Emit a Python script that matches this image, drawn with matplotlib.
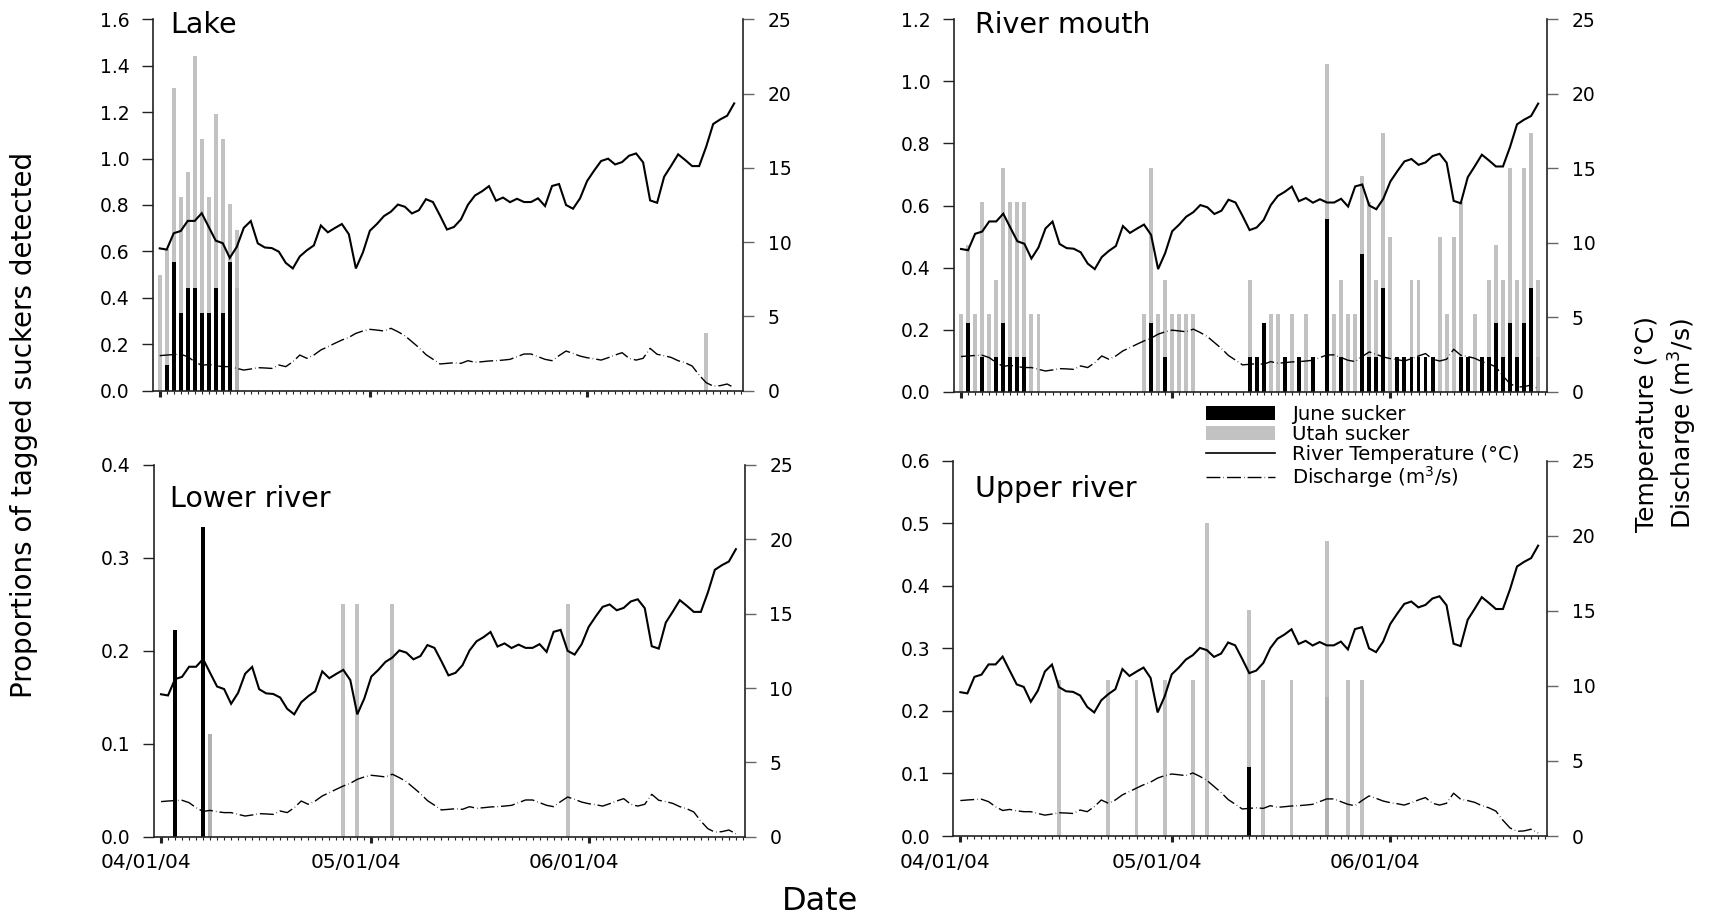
import numpy as np
import matplotlib
matplotlib.use("Agg")
import matplotlib.pyplot as plt
import matplotlib.transforms as mtransforms
from matplotlib.patches import Patch
from matplotlib.lines import Line2D
from matplotlib.ticker import FormatStrFormatter

plt.rcParams['font.family'] = ['DejaVu Sans']

W, H, DPI = 1709, 924, 100
GREY = '#c2c2c2'
MUTED = '#b2b2b2'
DASH = (10, 2.2, 0.4, 2.2)

# Daily river conditions, day 0 = 04/01/04
temperature = [9.58, 9.50, 10.60, 10.75, 11.43, 11.43, 11.95, 11.02, 10.10, 9.93,
               8.94, 9.68, 10.96, 11.42, 9.92, 9.64, 9.60, 9.36, 8.60, 8.23,
               9.04, 9.45, 9.78, 11.12, 10.66, 10.95, 11.22, 10.53, 8.23, 9.30,
               10.77, 11.22, 11.75, 12.05, 12.53, 12.38, 11.93, 12.15, 12.89, 12.70,
               11.80, 10.85, 11.02, 11.53, 12.52, 13.14, 13.42, 13.77, 12.79, 13.00,
               12.69, 12.92, 12.70, 12.70, 12.95, 12.43, 13.78, 13.91, 12.50, 12.25,
               12.95, 14.11, 14.81, 15.46, 15.62, 15.23, 15.39, 15.82, 15.97, 15.37,
               12.81, 12.65, 14.40, 15.14, 15.91, 15.53, 15.12, 15.12, 16.42, 17.95,
               18.26, 18.51, 19.34]
discharge = [2.36, 2.40, 2.43, 2.45, 2.29, 1.95, 1.70, 1.77, 1.68, 1.62,
             1.62, 1.50, 1.39, 1.46, 1.55, 1.53, 1.50, 1.73, 1.62, 1.95,
             2.40, 2.18, 2.40, 2.74, 2.96, 3.19, 3.41, 3.59, 3.86, 4.02,
             4.13, 4.08, 4.02, 4.20, 3.97, 3.70, 3.30, 2.90, 2.43, 2.12,
             1.80, 1.84, 1.88, 1.84, 2.02, 1.91, 1.95, 2.00, 2.02, 2.06,
             2.11, 2.29, 2.47, 2.47, 2.29, 2.11, 2.02, 2.36, 2.67, 2.51,
             2.33, 2.22, 2.15, 2.06, 2.22, 2.40, 2.56, 2.18, 2.06, 2.18,
             2.85, 2.45, 2.36, 2.24, 2.02, 1.88, 1.66, 1.05, 0.54, 0.31,
             0.34, 0.45, 0.20]
days = np.arange(len(temperature))

date_ticks = [0, 30, 61]
date_labels = ['04/01/04', '05/01/04', '06/01/04']

# Detections per site: day, June sucker proportion, Utah sucker proportion (stacked)
lake_days = [0, 1, 2, 3, 4, 5, 6, 7, 8, 9, 10, 11, 78]
lake_june = [0, .111, .556, .333, .444, .444, .333, .333, .444, .333, .556, .444, 0]
lake_utah = [.50, .50, .75, .50, .50, 1.0, .75, .50, .75, .75, .25, .25, .25]

mouth_days = [0, 1, 2, 3, 4, 5, 6, 7, 8, 9, 10, 11,
              26, 27, 28, 29, 30, 31, 32, 33,
              41, 42, 43, 44, 45, 46, 47, 48, 49, 50,
              52, 53, 54, 55, 56, 57, 58, 59, 60, 61, 62, 63, 64, 65, 66, 67,
              68, 69, 70, 71, 72, 73, 74, 75, 76, 77, 78, 79, 80, 81, 82]
mouth_june = [0, .222, 0, .111, 0, .111, .222, .111, .111, .111, 0, 0,
              0, .222, 0, .111, 0, 0, 0, 0,
              .111, .111, .222, 0, 0, .111, 0, .111, 0, .111,
              .556, 0, .111, 0, 0, .444, .111, .111, .333, 0, .111, .111, .111, .111, .111, .111,
              0, 0, 0, .111, .111, 0, .111, .111, .222, .111, .222, .111, .222, .333, .111]
mouth_utah = [.25, .25, .25, .50, .25, .25, .50, .50, .50, .50, .25, .25,
              .25, .50, .25, .25, .25, .25, .25, .25,
              .25, 0, 0, .25, .25, 0, .25, 0, .25, 0,
              .50, .25, .25, .25, .25, .25, .50, .25, .50, .50, 0, 0, .25, .25, 0, 0,
              .50, .25, .50, .50, 0, .25, 0, .25, .25, .25, .50, .25, .50, .50, .25]

lower_days = [2, 6, 7, 26, 28, 33, 58]
lower_june = [.222, .333, .111, 0, 0, 0, 0]
lower_utah = [0, 0, 0, .25, .25, .25, .25]

upper_days = [14, 21, 25, 29, 33, 35, 41, 43, 47, 52, 55, 57]
upper_june = [0, 0, 0, 0, 0, 0, .111, 0, 0, .222, 0, 0]
upper_utah = [.25, .25, .25, .25, .25, .50, .25, .25, .25, .25, .25, .25]

panels = [
    dict(name='Lake', box=(152.7, 19.3, 743.3, 390.7), ymax=1.6, step=0.2,
         d=lake_days, june=lake_june, utah=lake_utah, muted=[11],
         title=(170, 33.3), xlabels=False),
    dict(name='River mouth', box=(954, 19.3, 1547.3, 391.7), ymax=1.2, step=0.2,
         d=mouth_days, june=mouth_june, utah=mouth_utah, muted=[82],
         title=(975, 33.3), xlabels=False),
    dict(name='Lower river', box=(154, 465, 745, 836.7), ymax=0.4, step=0.1,
         d=lower_days, june=lower_june, utah=lower_utah, muted=[7],
         title=(170, 506.7), xlabels=True),
    dict(name='Upper river', box=(953.3, 460.7, 1547.3, 836), ymax=0.6, step=0.1,
         d=upper_days, june=upper_june, utah=upper_utah, muted=[52],
         title=(975, 497.3), xlabels=True),
]

fig = plt.figure(figsize=(W / DPI, H / DPI), dpi=DPI)
label_shift = mtransforms.ScaledTranslation(-15 / DPI, 0, fig.dpi_scale_trans)

SPINE = '#222222'
TICK_FS = 13.5
for p in panels:
    left, top, right, bottom = p['box']
    ax = fig.add_axes([left / W, 1 - bottom / H, (right - left) / W, (bottom - top) / H])
    jcol = [MUTED if dd in p['muted'] else 'black' for dd in p['d']]
    ax.bar(p['d'], p['june'], width=0.55, color=jcol, linewidth=0, zorder=2)
    ax.bar(p['d'], p['utah'], bottom=p['june'], width=0.55, color=GREY, linewidth=0, zorder=1)
    ax.set_xlim(-1.0, 83.3)
    ax.set_ylim(0, p['ymax'])
    ax.set_yticks(np.arange(0, p['ymax'] + 1e-9, p['step']))
    ax.yaxis.set_major_formatter(FormatStrFormatter('%.1f'))
    ax.set_xticks(date_ticks)
    ax.set_xticks([dd for dd in range(0, 84) if dd not in date_ticks], minor=True)
    for s in ('top', 'right'):
        ax.spines[s].set_visible(False)
    for s in ('left', 'bottom'):
        ax.spines[s].set_color(SPINE)
        ax.spines[s].set_linewidth(1.2)
    ax.tick_params(axis='y', direction='out', length=7.7, width=1.0, pad=9,
                   labelsize=TICK_FS, color=SPINE)
    ax.tick_params(axis='x', which='major', direction='out', length=4, width=2.2,
                   pad=8, labelsize=14.5, color=SPINE)
    ax.tick_params(axis='x', which='minor', direction='out', length=2.5, width=0.8,
                   color=SPINE)
    if p['xlabels']:
        ax.set_xticklabels(date_labels)
        for lab in ax.get_xticklabels():
            lab.set_transform(lab.get_transform() + label_shift)
    else:
        ax.tick_params(axis='x', labelbottom=False)

    ax2 = ax.twinx()
    ax2.plot(days, temperature, color='black', lw=1.5, solid_joinstyle='miter')
    ax2.plot(days, discharge, color='black', lw=1.0, dashes=DASH)
    ax2.set_ylim(0, 25)
    ax2.set_yticks(range(0, 26, 5))
    for s in ('top', 'left', 'bottom'):
        ax2.spines[s].set_visible(False)
    ax2.spines['right'].set_color(SPINE)
    ax2.spines['right'].set_linewidth(1.2)
    ax2.tick_params(axis='y', direction='out', length=8, width=1.0, pad=9.6,
                    labelsize=TICK_FS, color='#666666')

    fig.text(p['title'][0] / W, 1 - p['title'][1] / H, p['name'],
             fontsize=20.5, ha='left', va='baseline')

fig.text(24 / W, 1 - 425 / H, 'Proportions of tagged suckers detected',
         rotation=90, ha='center', va='center', fontsize=20)
fig.text(1667 / W, 1 - 424 / H, 'Temperature (°C)\nDischarge (m$^3$/s)',
         rotation=90, ha='center', va='center', fontsize=18, linespacing=1.3,
         multialignment='center')
fig.text(820 / W, 1 - 902 / H, 'Date', ha='center', va='center', fontsize=23)

handles = [Patch(facecolor='black', edgecolor='none'),
           Patch(facecolor=GREY, edgecolor='none'),
           Line2D([], [], color='black', lw=1.2),
           Line2D([], [], color='black', lw=1.0, dashes=DASH)]
labels = ['June sucker', 'Utah sucker', 'River Temperature (°C)', 'Discharge (m$^3$/s)']
fig.legend(handles, labels, loc='upper left', bbox_to_anchor=(1206 / W, 1 - 405 / H),
           frameon=False, fontsize=14.2, handlelength=3.5, handletextpad=0.85,
           labelspacing=0.04, borderpad=0, borderaxespad=0)

fig.savefig('out.png', dpi=DPI)
